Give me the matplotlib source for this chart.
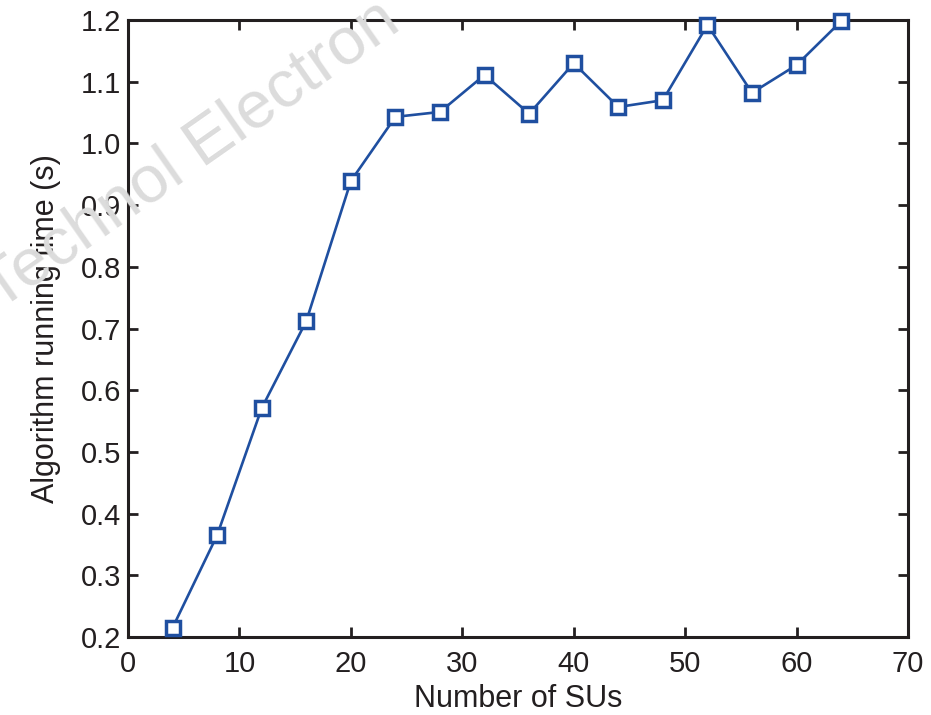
import matplotlib
matplotlib.use("Agg")
import matplotlib.pyplot as plt

plt.rcParams['font.family'] = ['Liberation Sans', 'DejaVu Sans']

num_sus = [4, 8, 12, 16, 20, 24, 28, 32, 36, 40, 44, 48, 52, 56, 60, 64]
run_time = [0.215, 0.365, 0.571, 0.712, 0.939, 1.043, 1.051, 1.111, 1.048,
            1.130, 1.059, 1.070, 1.192, 1.082, 1.127, 1.198]
x_ticks = [0, 10, 20, 30, 40, 50, 60, 70]
y_ticks = [0.2, 0.3, 0.4, 0.5, 0.6, 0.7, 0.8, 0.9, 1.0, 1.1, 1.2]

fig = plt.figure(figsize=(9.31, 7.15), dpi=100)
ax = fig.add_axes([128/931, 78/715, 780/931, 617/715])

# watermark (behind everything), partly outside the figure as in the reference
fig.text(-0.001, 0.566, 'Technol Electron', fontsize=48, color='#dcdcdc',
         rotation=35, rotation_mode='anchor', ha='left', va='baseline',
         zorder=0)
ax.patch.set_alpha(0)

ax.plot(num_sus, run_time, color='#1f4fa0', linewidth=1.9, marker='s',
        markersize=10, markerfacecolor='white', markeredgecolor='#1f4fa0',
        markeredgewidth=2.5, clip_on=False, zorder=3)

ax.set_xlim(0, 70)
ax.set_ylim(0.2, 1.2)
ax.set_xticks(x_ticks)
ax.set_yticks(y_ticks)
ax.set_yticklabels([f"{v:.1f}" for v in y_ticks])
ax.tick_params(direction='in', top=True, right=True, length=7, width=2,
               labelsize=21, colors='#231f20')
ax.tick_params(axis='x', pad=9)
ax.tick_params(axis='y', pad=5)
for s in ax.spines.values():
    s.set_linewidth(2.2)
    s.set_color('#231f20')

ax.set_xlabel('Number of SUs', fontsize=22, color='#231f20', labelpad=5)
ax.set_ylabel('Algorithm running time (s)', fontsize=22, color='#231f20', labelpad=14)

fig.savefig('out.png', dpi=100)
